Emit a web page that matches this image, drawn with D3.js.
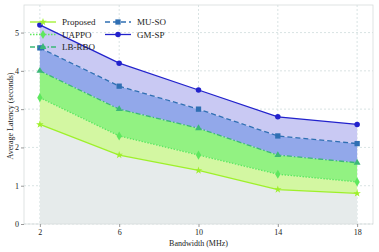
<!DOCTYPE html>
<html>
<head>
<meta charset="utf-8">
<script src="https://cdn.jsdelivr.net/npm/d3@7"></script>
<style>
  body { margin: 0; background: #fff; }
  text { font-family: "Liberation Serif", "DejaVu Serif", serif; fill: #222; }
</style>
</head>
<body>
<div class="chart"></div>
<script>
// data
var bandwidth = [2, 6, 10, 14, 18];
var proposed = [2.6, 1.8, 1.4, 0.9, 0.8];
var uappo = [3.3, 2.3, 1.8, 1.3, 1.1];
var lbrbo = [4.0, 3.0, 2.5, 1.8, 1.6];
var muso = [4.6, 3.6, 3.0, 2.3, 2.1];
var gmsp = [5.2, 4.2, 3.5, 2.8, 2.6];
var yTicks = [0, 1, 2, 3, 4, 5];

var svgWidth = 379, svgHeight = 252;
var margin = { top: 5, right: 6, bottom: 28, left: 24 };
var width = svgWidth - margin.left - margin.right;
var height = svgHeight - margin.top - margin.bottom;

var svg = d3.select(".chart").append("svg")
    .attr("width", svgWidth)
    .attr("height", svgHeight);

var chartGroup = svg.append("g")
    .attr("transform", `translate(${margin.left}, ${margin.top})`);

var x = d3.scaleLinear().domain([1.2, 18.8]).range([0, width]);
var y = d3.scaleLinear().domain([0, 5.72]).range([height, 0]);

// grid
chartGroup.selectAll(".gx").data(bandwidth).enter().append("line")
    .attr("x1", d => x(d)).attr("x2", d => x(d))
    .attr("y1", 0).attr("y2", height)
    .attr("stroke", "#cfdcdc").attr("stroke-width", 0.8)
    .attr("stroke-dasharray", "2,2");
chartGroup.selectAll(".gy").data(yTicks).enter().append("line")
    .attr("x1", 0).attr("x2", width)
    .attr("y1", d => y(d)).attr("y2", d => y(d))
    .attr("stroke", "#cfdcdc").attr("stroke-width", 0.8)
    .attr("stroke-dasharray", "2,2");

// series definitions
var series = [
    { name: "Proposed", vals: proposed, color: "#9ef02a", dash: null, marker: "star", fill: "#d3f7a2" },
    { name: "UAPPO", vals: uappo, color: "#5ee85e", dash: "1.5,1.5", marker: "diamond", fill: "#92f282" },
    { name: "LB-RBO", vals: lbrbo, color: "#3cb878", dash: "5,2,1.5,2", marker: "triangle", fill: "#92a8ea" },
    { name: "MU-SO", vals: muso, color: "#2f6fb3", dash: "5,3", marker: "square", fill: "#c9c9f3" },
    { name: "GM-SP", vals: gmsp, color: "#2222cc", dash: null, marker: "circle", fill: null }
];

// fills between consecutive curves
var zeros = bandwidth.map(() => 0);
var area = d3.area()
    .x(d => x(d.x))
    .y0(d => y(d.lo))
    .y1(d => y(d.hi));

function band(lo, hi, color) {
    var pts = bandwidth.map((b, i) => ({ x: b, lo: lo[i], hi: hi[i] }));
    chartGroup.append("path").attr("d", area(pts)).attr("fill", color);
}
band(zeros, proposed, "#e6ebeb");
for (var i = 0; i < series.length - 1; i++) {
    band(series[i].vals, series[i + 1].vals, series[i].fill);
}

var line = d3.line().x(d => x(d.x)).y(d => y(d.y));

var symbols = {
    star: d3.symbolStar, diamond: d3.symbolDiamond, triangle: d3.symbolTriangle,
    square: d3.symbolSquare, circle: d3.symbolCircle
};
var symSize = { star: 18, diamond: 24, triangle: 20, square: 28, circle: 24 };

series.forEach(function (s) {
    var pts = bandwidth.map((b, i) => ({ x: b, y: s.vals[i] }));
    chartGroup.append("path")
        .attr("d", line(pts))
        .attr("fill", "none")
        .attr("stroke", s.color)
        .attr("stroke-width", 1.3)
        .attr("stroke-dasharray", s.dash);
    chartGroup.selectAll(null).data(pts).enter().append("path")
        .attr("d", d3.symbol().type(symbols[s.marker]).size(symSize[s.marker]))
        .attr("transform", d => `translate(${x(d.x)},${y(d.y)})`)
        .attr("fill", s.color);
});

// frame
chartGroup.append("rect")
    .attr("width", width).attr("height", height)
    .attr("fill", "none").attr("stroke", "#d8dcdc").attr("stroke-width", 0.8);

// axes
var xAxis = chartGroup.append("g")
    .attr("transform", `translate(0, ${height})`)
    .call(d3.axisBottom(x).tickValues(bandwidth).tickSize(3).tickPadding(2));
var yAxis = chartGroup.append("g")
    .call(d3.axisLeft(y).tickValues(yTicks).tickFormat(d3.format("d")).tickSize(3).tickPadding(2));
[xAxis, yAxis].forEach(function (a) {
    a.select(".domain").remove();
    a.selectAll("line").attr("stroke", "#999");
    a.selectAll("text").style("font-size", "8px").style("font-family", "Liberation Serif");
});

// axis titles
chartGroup.append("text")
    .attr("x", width / 2).attr("y", height + 22)
    .attr("text-anchor", "middle").style("font-size", "8px")
    .text("Bandwidth (MHz)");
chartGroup.append("text")
    .attr("transform", "rotate(-90)")
    .attr("x", -111).attr("y", -11)
    .attr("text-anchor", "middle").style("font-size", "8px")
    .text("Average Latency (seconds)");

// legend
var legendPos = [[6, 17], [6, 29.5], [6, 42], [81, 17], [81, 29.5]];
series.forEach(function (s, i) {
    var g = chartGroup.append("g")
        .attr("transform", `translate(${legendPos[i][0]}, ${legendPos[i][1]})`);
    g.append("line").attr("x1", 0).attr("x2", 26)
        .attr("stroke", s.color).attr("stroke-width", 1.3)
        .attr("stroke-dasharray", s.dash);
    g.append("path")
        .attr("d", d3.symbol().type(symbols[s.marker]).size(symSize[s.marker]))
        .attr("transform", "translate(13,0)")
        .attr("fill", s.color);
    g.append("text").attr("x", 32).attr("y", 3)
        .style("font-size", "9px")
        .text(s.name);
});
</script>
</body>
</html>
